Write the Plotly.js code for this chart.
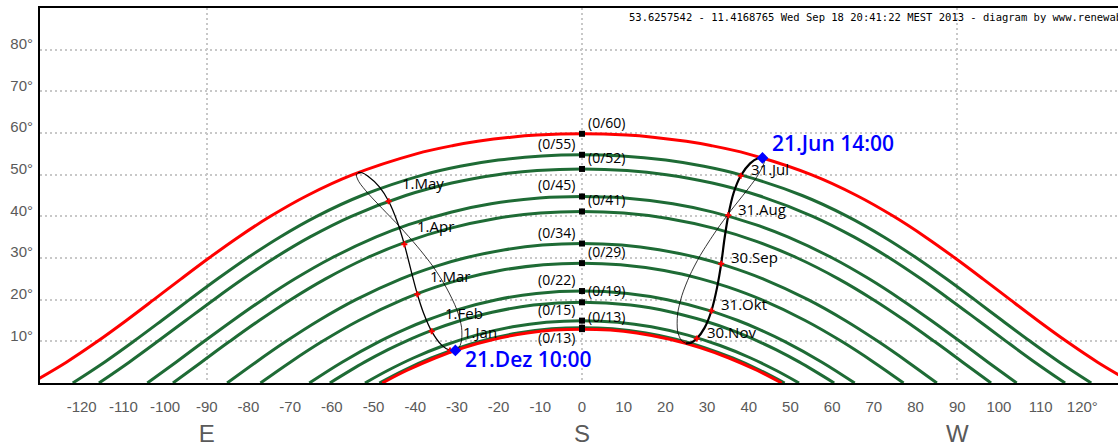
<!DOCTYPE html>
<html>
<head>
<meta charset="utf-8">
<script src="https://cdn.plot.ly/plotly-3.0.1.min.js"></script>
<style>
html,body{margin:0;padding:0;overflow:hidden;background:#fff;}
#chart{width:1140px;height:448px;}
</style>
</head>
<body>
<div id="chart"></div>
<script>
// ---- Sun path curves: morning half (altitude °, azimuth ° east of south) + noon altitude ----
const alt1 = [0,5,10,15,20,25,30,35,40,45,50,55,57,58,59,59.5];
const az1  = [132.10,123.66,116.20,109.30,102.69,96.15,89.47,82.44,74.73,65.88,54.97,39.75,30.87,25.02,16.99,10.74];
const alt2 = [0,5,10,15,20,25,30,35,40,45,50,52,53.5,54.5];
const az2  = [122.14,114.54,107.52,100.79,94.15,87.38,80.27,72.51,63.64,52.81,37.88,29.25,20.08,9.59];
const alt3 = [0,5,10,15,20,25,30,35,40,45,48,50,51];
const az3  = [115.86,108.61,101.75,95.05,88.30,81.29,73.76,65.32,55.32,42.28,31.24,20.24,10.78];
const alt4 = [0,5,10,15,20,25,30,35,38,41,43,44.4];
const az4  = [104.25,97.38,90.62,83.76,76.60,68.84,60.06,49.50,41.62,31.44,21.80,10.24];
const alt5 = [0,5,10,15,20,25,30,34,37,39.5,40.8];
const az5  = [98.11,91.31,84.49,77.44,69.89,61.50,51.65,41.84,32.24,20.66,9.99];
const alt6 = [0,5,10,15,20,25,28,30,32,33.1];
const az6  = [85.11,78.21,70.98,63.14,54.22,43.40,35.11,28.14,18.48,9.50];
const alt7 = [0,5,10,15,20,23,25,27,28.4];
const az7  = [77.12,69.97,62.25,53.53,43.02,35.10,28.52,19.70,9.24];
const alt8 = [0,5,10,13,15,17.5,20,21.5];
const az8  = [65.40,57.55,48.55,42.22,37.39,30.20,20.47,10.92];
const alt9 = [0,5,8,10,12.5,15,17,18.7];
const az9  = [60.48,52.17,46.51,42.30,36.34,29.10,21.55,11.62];
const alt10 = [0,3,6,9,11.5,13.5,14.6];
const az10  = [52.05,46.61,40.45,33.12,25.36,16.63,8.54];
const alt11 = [0,3,6,8.5,10.5,12,13];
const az11  = [48.60,42.84,36.14,29.38,22.48,15.33,7.30];
const alt12 = [0,3,6,8.5,10.5,12,12.7];
const az12  = [47.90,42.06,35.24,28.28,21.04,13.14,6.77];

const noonAlt    = [59.81,54.77,51.37,44.77,41.17,33.47,28.77,22.07,19.37,14.97,13.27,12.93];
const noonLabels = ['(0/60)','(0/55)','(0/52)','(0/45)','(0/41)','(0/34)','(0/29)','(0/22)','(0/19)','(0/15)','(0/13)','(0/13)'];
const noonSide   = ['right','left','right','left','right','left','right','left','right','left','right','below'];
const pathColor  = ['red','green','green','green','green','green','green','green','green','green','green','red'];

// ---- Analemma 10:00 (first half Dec21->Jun21, second half Jun21->Dec21) ----
const az10a  = [-30.37,-31.67,-33.60,-36.05,-37.94,-39.49,-40.91,-42.61,-44.27,-46.37,-48.60,-51.40,-52.77,-53.69];
const alt10a = [7.81,7.82,9.03,12.40,16.62,21.31,26.62,33.28,38.60,43.61,47.08,49.70,50.46,50.51];
const az10b  = [-53.69,-54.12,-53.52,-51.22,-47.94,-43.69,-39.57,-35.70,-32.49,-30.04,-28.89,-28.89,-29.40,-30.37];
const alt10b = [50.51,49.94,48.31,45.40,41.91,37.49,32.84,27.92,22.79,17.65,13.39,10.24,8.70,7.81];
// ---- Analemma 14:00 ----
const az14a  = [24.91,23.83,22.95,22.92,23.96,25.76,28.33,32.21,35.70,39.30,41.84,43.51,43.77,43.29];
const alt14a = [9.51,10.25,12.34,16.48,20.97,25.61,30.57,36.59,41.36,45.91,49.31,52.36,53.51,54.02];
const az14b  = [43.29,42.23,40.33,38.08,36.38,35.09,34.17,33.39,32.38,31.05,29.39,27.53,26.22,24.91];
const alt14b = [54.02,53.95,52.72,49.73,45.66,40.25,34.56,28.65,22.83,17.34,13.23,10.66,9.69,9.51];

const leftMarkIdx   = [1,3,5,7,9];
const leftMarkText  = ['1.Jan','1.Feb','1.Mar','1.Apr','1.May'];
const rightMarkIdx  = [3,5,7,9,11];
const rightMarkText = ['31.Jul','31.Aug','30.Sep','31.Okt','30.Nov'];

const xTickVals = [-120,-110,-100,-90,-80,-70,-60,-50,-40,-30,-20,-10,0,10,20,30,40,50,60,70,80,90,100,110,120];
const xTickText = ['-120','-110','-100','-90','-80','-70','-60','-50','-40','-30','-20','-10','0','10','20','30','40','50','60','70','80','90','100','110','120°'];
const yTickVals = [10,20,30,40,50,60,70,80];
const yTickText = ['10°','20°','30°','40°','50°','60°','70°','80°'];
const compassVals = [-90,0,90];
const compassText = ['E','S','W'];
const headerText = '53.6257542 - 11.4168765 Wed Sep 18 20:41:22 MEST 2013 - diagram by www.renewable-energy-concepts.com';

// ---- build ----
const halfAlt = [alt1,alt2,alt3,alt4,alt5,alt6,alt7,alt8,alt9,alt10,alt11,alt12];
const halfAz  = [az1,az2,az3,az4,az5,az6,az7,az8,az9,az10,az11,az12];
const GREEN = '#1e6b35', RED = '#ff0000';

function fullPath(alt, az, noon){
  const x = az.map(a => -a).concat([0], az.slice().reverse());
  const y = alt.concat([noon], alt.slice().reverse());
  return {x, y};
}

const traces = [];
const order = [];
for (let i = 0; i < 12; i++) if (pathColor[i] === 'green') order.push(i);
for (let i = 0; i < 12; i++) if (pathColor[i] === 'red') order.push(i);
order.forEach(i => {
  const p = fullPath(halfAlt[i], halfAz[i], noonAlt[i]);
  traces.push({x:p.x, y:p.y, mode:'lines', type:'scatter', hoverinfo:'skip', showlegend:false,
    line:{color: pathColor[i]==='red'?RED:GREEN, width:3, shape:'spline', smoothing:1}});
});

// analemmas
function ana(x,y,w){
  return {x:x, y:y, mode:'lines', type:'scatter', hoverinfo:'skip', showlegend:false,
    line:{color:'#000', width:w, shape:'spline', smoothing:0.8}};
}
traces.push(ana(az10b, alt10b, 0.8));
traces.push(ana(az10a, alt10a, 1.3));
traces.push(ana(az14a, alt14a, 0.8));
traces.push(ana(az14b, alt14b, 2.2));

// date markers
traces.push({x: leftMarkIdx.map(i=>az10a[i]).concat(rightMarkIdx.map(i=>az14b[i])),
             y: leftMarkIdx.map(i=>alt10a[i]).concat(rightMarkIdx.map(i=>alt14b[i])),
             mode:'markers', type:'scatter', hoverinfo:'skip', showlegend:false,
             marker:{symbol:'cross', size:5, color:RED}});
// noon squares
traces.push({x: noonAlt.map(()=>0), y: noonAlt, mode:'markers', type:'scatter', hoverinfo:'skip', showlegend:false,
             marker:{symbol:'square', size:6, color:'#000'}});
// solstice diamonds
traces.push({x:[az10a[0], az14b[0]], y:[alt10a[0], alt14b[0]], mode:'markers', type:'scatter', hoverinfo:'skip', showlegend:false,
             marker:{symbol:'diamond', size:9, color:'#0000ff'}});
// dummy trace for compass axis
traces.push({x:[0], y:[null], xaxis:'x2', yaxis:'y', mode:'markers', type:'scatter', hoverinfo:'skip', showlegend:false});

const LBL = 'Open Sans, Noto Sans, sans-serif';
const annotations = [];
noonLabels.forEach((t,i) => {
  const side = noonSide[i];
  annotations.push({x:0, y:noonAlt[i], xref:'x', yref:'y', text:t, showarrow:false,
    xanchor: side==='right' ? 'left' : 'right', yanchor:'middle',
    xshift: side==='right' ? 4 : -5, yshift: side==='below' ? -8.5 : 11.5,
    font:{family:LBL, size:14, color:'#000'}});
});
leftMarkIdx.forEach((idx,k) => {
  annotations.push({x:az10a[idx], y:alt10a[idx], xref:'x', yref:'y', text:leftMarkText[k], showarrow:false,
    xanchor:'left', yanchor:'middle', xshift:11, yshift:18, font:{family:LBL, size:15, color:'#000', weight:500}});
});
rightMarkIdx.forEach((idx,k) => {
  annotations.push({x:az14b[idx], y:alt14b[idx], xref:'x', yref:'y', text:rightMarkText[k], showarrow:false,
    xanchor:'left', yanchor:'middle', xshift:8, yshift:6.5, font:{family:LBL, size:15, color:'#000', weight:500}});
});
annotations.push({x:az10a[0], y:alt10a[0], xref:'x', yref:'y', text:'21.Dez 10:00', showarrow:false,
  xanchor:'left', yanchor:'middle', xshift:8, yshift:-9, font:{family:LBL, size:21, color:'#0000ff', weight:600}});
annotations.push({x:az14b[0], y:alt14b[0], xref:'x', yref:'y', text:'21.Jun 14:00', showarrow:false,
  xanchor:'left', yanchor:'middle', xshift:8, yshift:15, font:{family:LBL, size:21, color:'#0000ff', weight:600}});
annotations.push({x:0.5412, y:0.976, xref:'paper', yref:'paper', text:headerText, showarrow:false,
  xanchor:'left', yanchor:'middle', font:{family:'DejaVu Sans Mono, monospace', size:10.5, color:'#000'}});

const tickFont = {family:'Liberation Sans, Arial, sans-serif', size:15, color:'#5a5a5a'};
const layout = {
  width:1140, height:448,
  margin:{l:40, r:16, t:8, b:65},
  paper_bgcolor:'#fff', plot_bgcolor:'#fff',
  showlegend:false,
  xaxis:{range:[-130,130], autorange:false, tickmode:'array', tickvals:xTickVals, ticktext:xTickText,
    showgrid:false, zeroline:false, showline:true, mirror:true, linecolor:'#000', linewidth:2,
    ticks:'', ticklabelstandoff:9, tickfont:tickFont, fixedrange:true},
  xaxis2:{overlaying:'x', anchor:'y', side:'bottom', range:[-130,130], autorange:false,
    tickmode:'array', tickvals:compassVals, ticktext:compassText,
    showgrid:true, gridcolor:'#c8c8c8', gridwidth:2, griddash:'2px,3px',
    zeroline:false, showline:false, ticks:'', ticklabelstandoff:34,
    tickfont:{family:'Liberation Sans, Arial, sans-serif', size:24, color:'#5a5a5a'}, fixedrange:true},
  yaxis:{range:[0,90], autorange:false, tickmode:'array', tickvals:yTickVals, ticktext:yTickText,
    showgrid:true, gridcolor:'#c8c8c8', gridwidth:2, griddash:'2px,3px',
    zeroline:false, showline:true, mirror:true, linecolor:'#000', linewidth:2,
    ticks:'', ticklabelshift:-6, ticklabelstandoff:2, tickfont:tickFont, fixedrange:true},
  annotations: annotations
};
Plotly.newPlot('chart', traces, layout, {displayModeBar:false, staticPlot:true});
</script>
</body>
</html>
